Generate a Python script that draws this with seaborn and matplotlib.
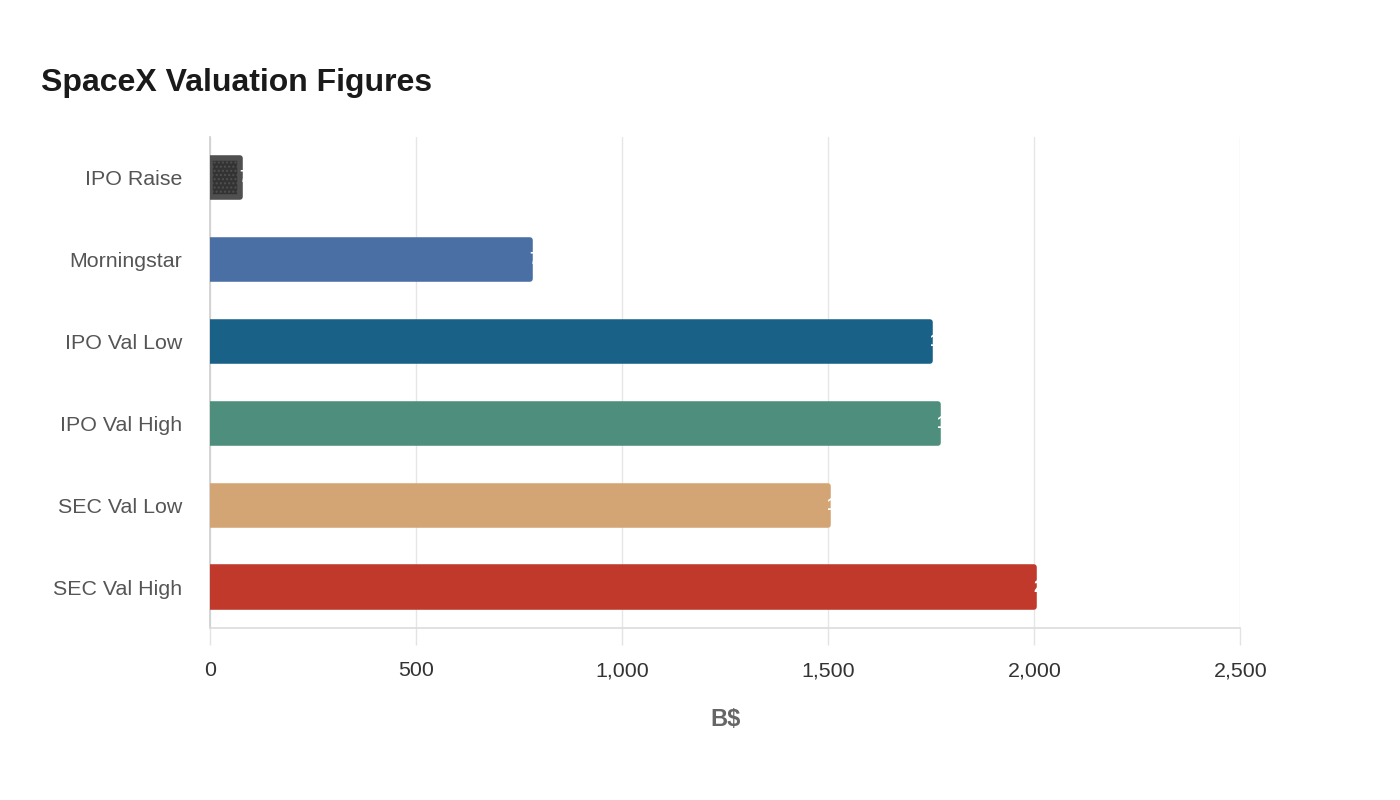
import matplotlib.pyplot as plt
import pandas as pd
import seaborn as sns

# Data
categories = ["IPO Raise", "Morningstar", "IPO Val Low", "IPO Val High", "SEC Val Low", "SEC Val High"]
values = [73, 777, 1748, 1767, 1500, 2000]
bar_colors = ["#333333", "#4a6fa5", "#1a6188", "#4e8e7c", "#d4a574", "#c0392b"]
x_ticks = [0, 500, 1000, 1500, 2000, 2500]

df = pd.DataFrame({"label": categories, "value": values})

sns.set_theme(style="white")
plt.rcParams["font.family"] = ["Liberation Sans", "DejaVu Sans"]

fig = plt.figure(figsize=(14, 8), dpi=100)
ax = fig.add_axes([0.15, 0.215, 0.736, 0.614])

sns.barplot(
    data=df,
    x="value",
    y="label",
    hue="label",
    palette=dict(zip(categories, bar_colors)),
    order=categories,
    width=0.48,
    saturation=1,
    legend=False,
    ax=ax,
)

# rounded bar ends: thick edge in bar colour with round joins
for patch, col in zip(ax.patches, bar_colors):
    patch.set_edgecolor(col)
    patch.set_linewidth(4)
    patch.set_joinstyle("round")
    patch.set_zorder(3)
ax.patches[0].set_hatch("....")
ax.patches[0].set_edgecolor("#505050")

# white value labels at the bar ends (mostly lost against the background)
for i, v in enumerate(values):
    ax.text(v - 2, i, f"{v:,}", color="white", fontsize=12, fontweight="bold",
            ha="left", va="center", zorder=4)

ax.set_xlim(0, 2500)
ax.set_xticks(x_ticks)
ax.set_xticklabels([f"{t:,}" for t in x_ticks], fontsize=15.4, color="#333333")
ax.tick_params(axis="y", labelsize=15.4, labelcolor="#555555", length=0, pad=20)
ax.tick_params(axis="x", direction="out", length=12, width=1, color="#e3e3e3", pad=12, bottom=True)
ax.xaxis.grid(True, color="#e6e6e6", linewidth=1)
ax.set_axisbelow(True)

for side in ["top", "right"]:
    ax.spines[side].set_visible(False)
ax.spines["left"].set_color("#d0d0d0")
ax.spines["bottom"].set_color("#dddddd")

ax.set_ylabel("")
ax.set_xlabel("B$", fontsize=17, fontweight="bold", color="#666666", labelpad=20)

fig.text(0.029, 0.896, "SpaceX Valuation Figures", fontsize=23, fontweight="bold",
         color="#1a1a1a", ha="left", va="center")

fig.savefig("out.png", dpi=100, facecolor="white")
